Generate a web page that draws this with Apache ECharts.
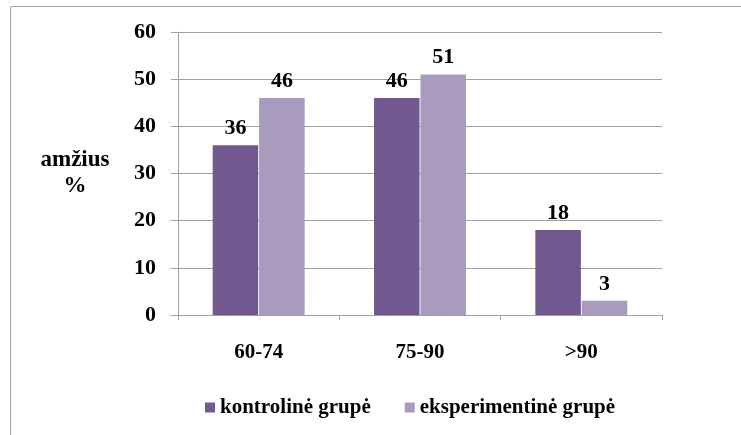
<!DOCTYPE html>
<html>
<head>
<meta charset="utf-8">
<script src="https://cdn.jsdelivr.net/npm/echarts@6/dist/echarts.min.js"></script>
<style>
  html, body { margin: 0; padding: 0; background: #fff; }
  #chart { width: 741px; height: 435px; }
</style>
</head>
<body>
<div id="chart"></div>
<script>
const categories = ['60-74', '75-90', '>90'];
const kontroline = [36, 46, 18];
const eksperimentine = [46, 51, 3];
const seriesNames = ['kontrolinė grupė', 'eksperimentinė grupė'];
const yTicks = { min: 0, max: 60, interval: 10 };

const font = "'Liberation Serif', 'Times New Roman', Times, serif";
const colors = ['#71588f', '#a99bbd'];

const chart = echarts.init(document.getElementById('chart'));

const labelStyle = {
  show: true,
  position: 'top',
  distance: 6,
  color: '#000',
  fontFamily: font,
  fontWeight: 'bold',
  fontSize: 22
};

chart.setOption({
  animation: false,
  color: colors,
  textStyle: { fontFamily: font },
  graphic: [{
    type: 'rect',
    shape: { x: 10.5, y: 6.5, width: 760, height: 460 },
    style: { fill: 'none', stroke: '#a6a6a6', lineWidth: 1 },
    silent: true
  }],
  grid: { left: 178, right: 79, top: 32, bottom: 120 },
  legend: {
    bottom: 12,
    left: 200,
    itemWidth: 10,
    itemHeight: 10,
    itemGap: 34,
    icon: 'rect',
    textStyle: { fontFamily: font, fontWeight: 'bold', fontSize: 21, color: '#000' },
    data: seriesNames
  },
  xAxis: {
    type: 'category',
    data: categories,
    axisLine: { lineStyle: { color: '#a0a0a0' } },
    axisTick: { show: true, length: 5, lineStyle: { color: '#a0a0a0' } },
    axisLabel: { margin: 27, color: '#000', fontFamily: font, fontWeight: 'bold', fontSize: 21 }
  },
  yAxis: {
    type: 'value',
    min: yTicks.min,
    max: yTicks.max,
    interval: yTicks.interval,
    name: 'amžius\n%',
    nameLocation: 'middle',
    nameRotate: 0,
    nameGap: 103,
    nameTextStyle: { color: '#000', fontFamily: font, fontWeight: 'bold', fontSize: 23, lineHeight: 26, align: 'center', padding: [6, 0, 0, 0] },
    axisLine: { show: true, lineStyle: { color: '#a0a0a0' } },
    axisTick: { show: true, length: 7, lineStyle: { color: '#a0a0a0' } },
    splitLine: { lineStyle: { color: '#a0a0a0' } },
    axisLabel: { margin: 22, color: '#000', fontFamily: font, fontWeight: 'bold', fontSize: 22 }
  },
  series: [
    {
      name: seriesNames[0],
      type: 'bar',
      data: kontroline,
      barGap: '2%',
      barCategoryGap: '43%',
      label: labelStyle,
      itemStyle: { color: colors[0] }
    },
    {
      name: seriesNames[1],
      type: 'bar',
      data: eksperimentine,
      label: labelStyle,
      itemStyle: { color: colors[1] }
    }
  ]
});
</script>
</body>
</html>
